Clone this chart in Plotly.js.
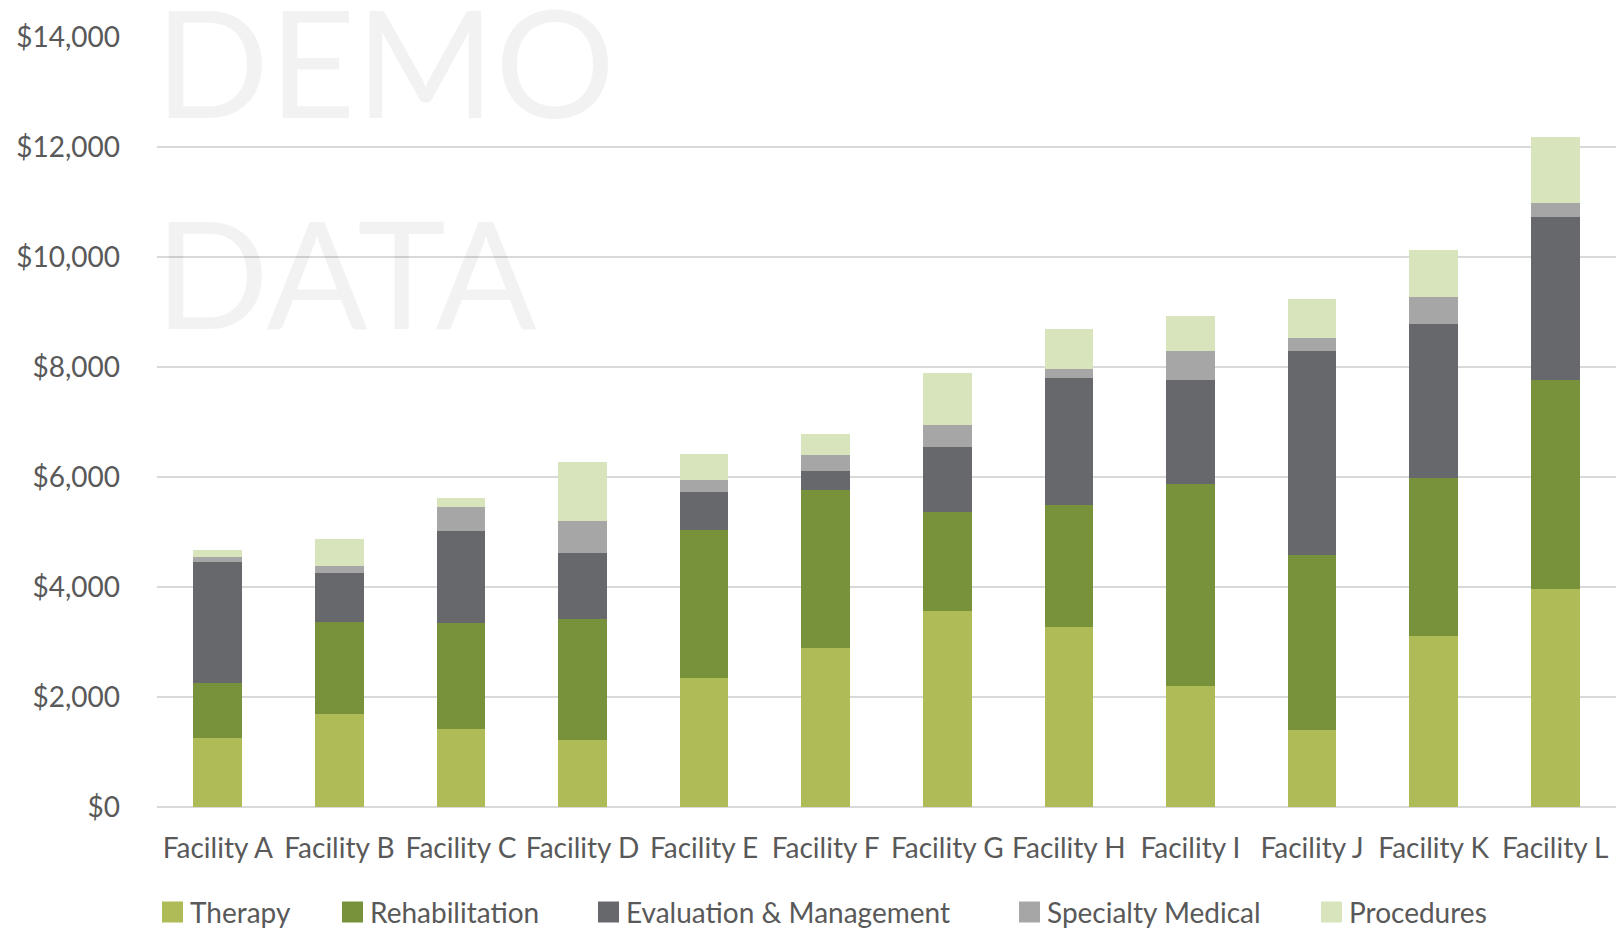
<!DOCTYPE html>
<html>
<head>
<meta charset="utf-8">
<script src="https://cdn.plot.ly/plotly-3.0.1.min.js"></script>
<style>
  html, body { margin: 0; padding: 0; background: #ffffff; }
  #chart { width: 1624px; height: 929px; }
</style>
</head>
<body>
<div id="chart"></div>
<script>
// ---- data ----
const categories = ['Facility A', 'Facility B', 'Facility C', 'Facility D', 'Facility E', 'Facility F',
                    'Facility G', 'Facility H', 'Facility I', 'Facility J', 'Facility K', 'Facility L'];
const seriesNames = ['Therapy', 'Rehabilitation', 'Evaluation & Management', 'Specialty Medical', 'Procedures'];
const therapy        = [1250, 1695, 1415, 1210, 2350, 2895, 3565, 3275, 2200, 1400, 3105, 3960];
const rehabilitation = [1000, 1665, 1925, 2200, 2685, 2875, 1800, 2215, 3675, 3185, 2885, 3805];
const evalManagement = [2200,  895, 1685, 1200,  685,  345, 1180, 2305, 1895, 3705, 2795, 2970];
const specialtyMed   = [  90,  120,  425,  595,  230,  280,  400,  165,  520,  235,  485,  240];
const procedures     = [ 135,  500,  175, 1065,  475,  380,  945,  740,  645,  715,  860, 1215];
const watermarkLines = ['DEMO', 'DATA'];

// ---- style ----
const colors = ['#AFBB57', '#77923B', '#67686B', '#A6A6A6', '#D8E4BC'];
const textColor = '#595959';
const fontFamily = 'Lato, "Open Sans", sans-serif';

const seriesValues = [therapy, rehabilitation, evalManagement, specialtyMed, procedures];

const traces = seriesValues.map((vals, i) => ({
  type: 'bar',
  name: seriesNames[i],
  x: categories,
  y: vals,
  marker: { color: colors[i], line: { width: 0 } },
  showlegend: false,
  hoverinfo: 'x+y+name'
}));

// plot-area geometry (pixels) used to place the hand-built legend and watermark
const PL = 157, PT = 37, PW = 1459, PH = 770;
const px = x => (x - PL) / PW;
const py = y => (PT + PH - y) / PH;

const shapes = [];
const annotations = [];

// legend (Excel-like: square + label)
const legendMarkX = [162, 342, 598, 1019, 1321];
const legendY = 912;
const sq = 21;
seriesNames.forEach((name, i) => {
  shapes.push({
    type: 'rect', xref: 'paper', yref: 'paper',
    x0: px(legendMarkX[i]), x1: px(legendMarkX[i] + sq),
    y0: py(legendY + sq / 2), y1: py(legendY - sq / 2),
    fillcolor: colors[i], line: { width: 0 }
  });
  annotations.push({
    xref: 'paper', yref: 'paper',
    x: px(legendMarkX[i] + sq + 5), y: py(legendY),
    xanchor: 'left', yanchor: 'middle',
    text: name, showarrow: false,
    font: { family: fontFamily, size: 28, color: textColor }
  });
});

// watermark
const wmY = [60, 271];
watermarkLines.forEach((t, i) => {
  annotations.push({
    xref: 'paper', yref: 'paper',
    x: px(153), y: py(wmY[i]),
    xanchor: 'left', yanchor: 'middle',
    text: t, showarrow: false,
    font: { family: fontFamily, size: 150, color: 'rgba(0,0,0,0.052)' }
  });
});

const layout = {
  width: 1624,
  height: 929,
  margin: { l: PL, r: 1624 - PL - PW, t: PT, b: 929 - PT - PH, pad: 0 },
  paper_bgcolor: '#ffffff',
  plot_bgcolor: '#ffffff',
  font: { family: fontFamily, size: 28, color: textColor },
  barmode: 'stack',
  bargap: 0.6,
  showlegend: false,
  xaxis: {
    type: 'category',
    showgrid: false,
    zeroline: false,
    showline: false,
    ticks: '',
    ticklabelstandoff: 22,
    tickfont: { family: fontFamily, size: 28, color: textColor }
  },
  yaxis: {
    range: [0, 14000],
    dtick: 2000,
    tick0: 0,
    tickprefix: '$',
    tickformat: ',d',
    showgrid: true,
    gridcolor: '#D9D9D9',
    gridwidth: 1.5,
    zeroline: true,
    zerolinecolor: '#D9D9D9',
    zerolinewidth: 1.5,
    showline: false,
    ticks: '',
    ticklabelstandoff: 36,
    tickfont: { family: fontFamily, size: 28, color: textColor }
  },
  shapes: shapes,
  annotations: annotations
};

Plotly.newPlot('chart', traces, layout, { displayModeBar: false, responsive: false });
</script>
</body>
</html>
